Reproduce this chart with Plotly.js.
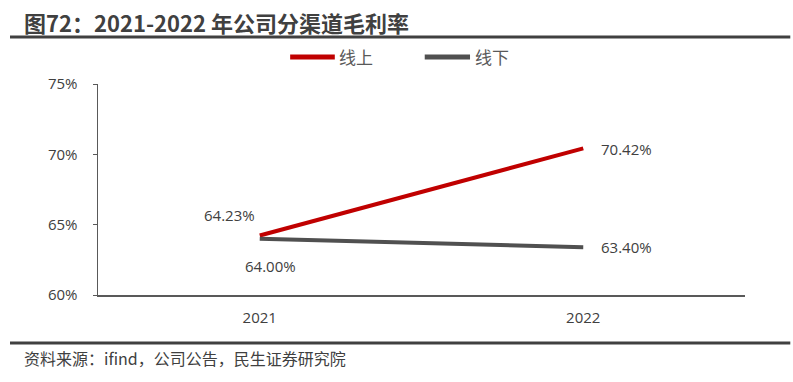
<!DOCTYPE html>
<html>
<head>
<meta charset="utf-8">
<script src="https://cdn.plot.ly/plotly-3.0.1.min.js"></script>
<style>html,body{margin:0;padding:0;background:#fff;}#chart{width:793px;height:382px;}</style>
</head>
<body>
<div id="chart"></div>
<script>
const years = ['2021', '2022'];
const online = [64.23, 70.42];
const offline = [64.00, 63.40];
const onlineLabels = ['64.23%', '70.42%'];
const offlineLabels = ['64.00%', '63.40%'];
const yTicks = [60, 65, 70, 75];
const yTickText = ['60%', '65%', '70%', '75%'];
const seriesNames = ['线上', '线下'];
const seriesColors = ['#C00000', '#505050'];

const font = '"Noto Sans CJK SC", "Open Sans", sans-serif';
const traces = [
  {x: years, y: online, name: seriesNames[0], type: 'scatter', mode: 'lines',
   line: {color: seriesColors[0], width: 4}},
  {x: years, y: offline, name: seriesNames[1], type: 'scatter', mode: 'lines',
   line: {color: seriesColors[1], width: 4}}
];

const labelFont = {size: 15, color: '#404040', family: '"Open Sans", sans-serif'};
const annotations = [
  {text: '<b>图72：2021-2022 年公司分渠道毛利率</b>', xref: 'paper', yref: 'paper',
   x: -0.118, xanchor: 'left', y: 1.294, yanchor: 'middle', showarrow: false,
   font: {size: 22, color: '#404040', family: font}},
  {text: '资料来源：ifind，公司公告，民生证券研究院', xref: 'paper', yref: 'paper',
   x: -0.117, xanchor: 'left', y: -0.299, yanchor: 'middle', showarrow: false,
   font: {size: 16, color: '#404040', family: font}},
  {text: onlineLabels[0], x: 0, y: online[0], xshift: -30, yshift: 21, showarrow: false, font: labelFont},
  {text: offlineLabels[0], x: 0, y: offline[0], xshift: 11, yshift: -27, showarrow: false, font: labelFont},
  {text: onlineLabels[1], x: 1, y: online[1], xanchor: 'left', xshift: 16, yshift: -1, showarrow: false, font: labelFont},
  {text: offlineLabels[1], x: 1, y: offline[1], xanchor: 'left', xshift: 16, yshift: 0, showarrow: false, font: labelFont},
  {text: seriesNames[0], xref: 'paper', yref: 'paper', x: 0.370, xanchor: 'left', y: 1.128, yanchor: 'middle',
   showarrow: false, font: {size: 17, color: '#595959', family: font}},
  {text: seriesNames[1], xref: 'paper', yref: 'paper', x: 0.579, xanchor: 'left', y: 1.128, yanchor: 'middle',
   showarrow: false, font: {size: 17, color: '#595959', family: font}}
];

const layout = {
  width: 793, height: 382,
  margin: {l: 98, r: 48, t: 84, b: 87},
  paper_bgcolor: '#fff', plot_bgcolor: '#fff',
  font: {family: font, color: '#404040', size: 14},
  showlegend: false,
  xaxis: {type: 'category', range: [-0.5, 1.5], showline: true, linecolor: '#595959', linewidth: 1.5,
          ticks: '', showgrid: false, zeroline: false,
          tickfont: {size: 15, color: '#404040', family: '"Open Sans", sans-serif'}, ticklabelstandoff: 8},
  yaxis: {range: [60, 75], tickvals: yTicks, ticktext: yTickText, showline: true, linecolor: '#595959',
          linewidth: 1.5, ticks: 'outside', ticklen: 4, tickcolor: '#595959', showgrid: false, zeroline: false,
          tickfont: {size: 15, color: '#404040', family: '"Open Sans", sans-serif'}, ticklabelstandoff: 12},
  shapes: [
    {type: 'line', xref: 'paper', yref: 'paper', x0: -0.136, x1: 1.07, y0: 1.223, y1: 1.223,
     line: {color: '#404040', width: 3}},
    {type: 'line', xref: 'paper', yref: 'paper', x0: -0.136, x1: 1.07, y0: -0.227, y1: -0.227,
     line: {color: '#404040', width: 3}},
    {type: 'line', xref: 'paper', yref: 'paper', x0: 0.297, x1: 0.366, y0: 1.128, y1: 1.128,
     line: {color: seriesColors[0], width: 5}},
    {type: 'line', xref: 'paper', yref: 'paper', x0: 0.505, x1: 0.575, y0: 1.128, y1: 1.128,
     line: {color: seriesColors[1], width: 5}}
  ],
  annotations: annotations
};
Plotly.newPlot('chart', traces, layout, {displayModeBar: false, staticPlot: true});
</script>
</body>
</html>
